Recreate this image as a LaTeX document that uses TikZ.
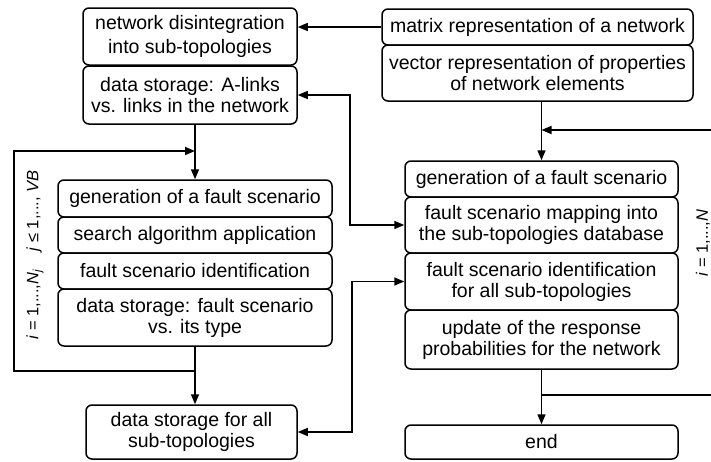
\documentclass[tikz,border=0pt]{standalone}
\usepackage{fontspec}
\setmainfont{Liberation Sans}
\usetikzlibrary{arrows.meta}
\begin{document}
\begin{tikzpicture}[x=1pt,y=-1pt,
 box/.style={draw, line width=1.5pt, rounded corners=6pt, align=center, inner sep=0pt, font=\fontsize{19.5}{21}\selectfont},
 tip/.tip={Triangle[length=10pt,width=8pt]},
 arr/.style={line width=1.5pt, -tip},
 dbl/.style={line width=1.5pt, tip-tip},
 ln/.style={line width=1.5pt},
 lab/.style={rotate=90, inner sep=0pt, font=\fontsize{16.5}{18}\selectfont}]
\useasboundingbox (0,0) rectangle (711,461);

% left top
\node[box, minimum width=214, minimum height=57] (netdis) at (190,36.5) {network disintegration\\[3pt]into sub-topologies};
\node[box, minimum width=214, minimum height=58] (dsA) at (190,95) {data storage: A-links\\vs. links in the network};

% right top
\node[box, minimum width=311, minimum height=36] (matrix) at (537.5,27) {matrix representation of a network};
\node[box, minimum width=311, minimum height=56] (vector) at (537.5,73) {vector representation of properties\\of network elements};

% right column
\node[box, minimum width=273, minimum height=36] (genR) at (541.5,179) {generation of a fault scenario};
\node[box, minimum width=273, minimum height=56] (mapR) at (541.5,225) {fault scenario mapping into\\the sub-topologies database};
\node[box, minimum width=273, minimum height=57] (idR) at (541.5,281.5) {fault scenario identification\\for all sub-topologies};
\node[box, minimum width=273, minimum height=59] (updR) at (541.5,339.5) {update of the response\\probabilities for the network};
\node[box, minimum width=273, minimum height=34] (endR) at (541.5,442) {end};

% left column
\node[box, minimum width=274, minimum height=37] (genL) at (195,198.5) {generation of a fault scenario};
\node[box, minimum width=274, minimum height=36] (search) at (195,235) {search algorithm application};
\node[box, minimum width=274, minimum height=36] (idL) at (195,271) {fault scenario identification};
\node[box, minimum width=274, minimum height=57] (dsF) at (195,317.5) {data storage: fault scenario\\vs. its type};
\node[box, minimum width=211, minimum height=54] (dsAll) at (191.5,432) {data storage for all\\sub-topologies};

% labels
\node[lab] (labL) at (35,255) {\textit{i} = 1,...,\textit{N}\textsubscript{\textit{j}}\hspace{18pt}\textit{j} ≤ 1,..., \textit{VB}};
\node[lab] (labR) at (703,243) {\textit{i} = 1,...,\textit{N}};

% coordinates
\coordinate (lt) at (14,151);
\coordinate (lb) at (14,371);
\coordinate (rt) at (711,130);
\coordinate (rb) at (711,395);
\coordinate (j1) at (350,0);
\coordinate (j2) at (352,0);

% connectors
\draw[arr] (matrix.west) -- (matrix.west -| netdis.east);
\draw[arr] (dsA.south -| genL.north) -- (genL.north);
\draw[arr] (lb -| dsF.south) -- (lb) -- (lt) -- (lt -| genL.north);
\draw[arr] (dsF.south) -- (dsAll.north -| dsF.south);
\draw[arr] (vector.south -| genR.north) -- (genR.north);
\draw[arr] (rt) -- (rt -| genR.north);
\draw[arr] (updR.south) -- (endR.north);
\draw[ln] (rb -| updR.south) -- (rb);
\draw[dbl] (dsA.east) -| (j1 |- mapR.west) -- (mapR.west);
\draw[dbl] (idR.west) -| (j2 |- dsAll.east) -- (dsAll.east);
\end{tikzpicture}
\end{document}
